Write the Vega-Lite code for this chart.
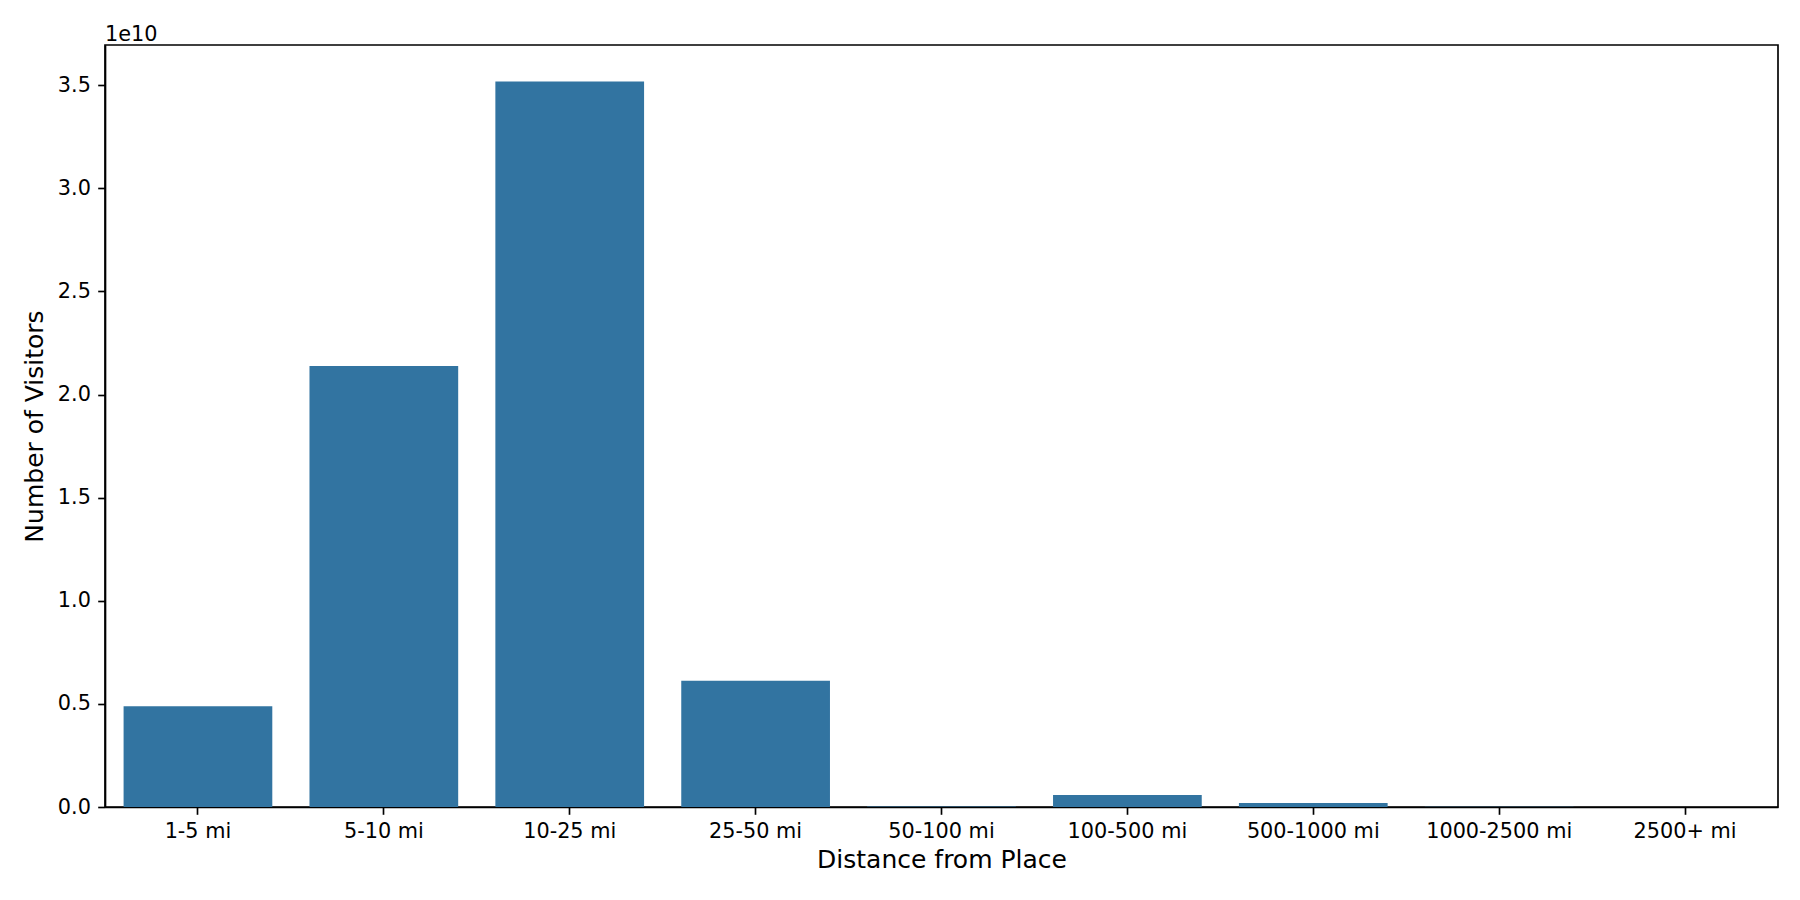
{
  "$schema": "https://vega.github.io/schema/vega-lite/v6.json",
  "width": 1673,
  "height": 762,
  "autosize": {"type": "none"},
  "padding": {"left": 105, "top": 45, "right": 22, "bottom": 93},
  "background": "white",
  "title": {
    "text": "1e10",
    "anchor": "start",
    "frame": "group",
    "font": "DejaVu Sans",
    "fontSize": 20.8,
    "fontWeight": "normal",
    "color": "black",
    "offset": -1
  },
  "config": {
    "font": "DejaVu Sans",
    "view": {"stroke": "black", "strokeWidth": 1.67},
    "axis": {
      "domainColor": "black",
      "domainWidth": 1.67,
      "tickColor": "black",
      "tickWidth": 1.67,
      "tickSize": 7.3,
      "labelPadding": 7.3,
      "labelFont": "DejaVu Sans",
      "labelFontSize": 20.8,
      "labelColor": "black",
      "titleFont": "DejaVu Sans",
      "titleFontSize": 25,
      "titleFontWeight": "normal",
      "titleColor": "black",
      "grid": false
    }
  },
  "data": {
    "values": [
      {"distance": "1-5 mi", "visitors": 4890000000},
      {"distance": "5-10 mi", "visitors": 21390000000},
      {"distance": "10-25 mi", "visitors": 35180000000},
      {"distance": "25-50 mi", "visitors": 6120000000},
      {"distance": "50-100 mi", "visitors": 20000000},
      {"distance": "100-500 mi", "visitors": 580000000},
      {"distance": "500-1000 mi", "visitors": 190000000},
      {"distance": "1000-2500 mi", "visitors": 8000000},
      {"distance": "2500+ mi", "visitors": 4000000}
    ]
  },
  "mark": {"type": "bar", "color": "#3274a1"},
  "encoding": {
    "x": {
      "field": "distance",
      "type": "nominal",
      "sort": null,
      "title": "Distance from Place",
      "scale": {"paddingInner": 0.2, "paddingOuter": 0.1},
      "axis": {"labelAngle": 0, "titlePadding": 6}
    },
    "y": {
      "field": "visitors",
      "type": "quantitative",
      "title": "Number of Visitors",
      "scale": {"domain": [0, 36950000000], "nice": false, "zero": true},
      "axis": {
        "values": [0, 5000000000, 10000000000, 15000000000, 20000000000, 25000000000, 30000000000, 35000000000],
        "labelExpr": "format(datum.value / 1e10, '.1f')",
        "titlePadding": 10
      }
    }
  }
}
